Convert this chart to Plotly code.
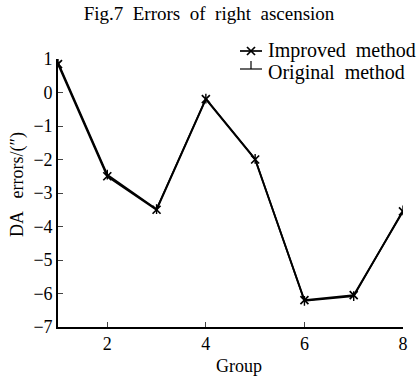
import plotly.graph_objects as go

# Data: right-ascension errors per observation group
groups = [1, 2, 3, 4, 5, 6, 7, 8]
improved = [0.85, -2.5, -3.5, -0.2, -2.0, -6.2, -6.05, -3.55]
original = [0.9, -2.45, -3.48, -0.18, -1.98, -6.22, -6.08, -3.52]

x_ticks = [2, 4, 6, 8]
y_ticks = [1, 0, -1, -2, -3, -4, -5, -6, -7]

series_names = ["Improved\u2002method", "Original\u2002method"]

serif = "Liberation Serif, Times New Roman, serif"
W, H = 418, 376
L, R, T, B = 58, 15, 59, 49
PW, PH = W - L - R, H - T - B
GAP = "\u2002\u2009"


def px(x):
    """Pixel column -> paper x."""
    return (x - L) / PW


def py(y):
    """Pixel row -> paper y."""
    return (H - B - y) / PH


fig = go.Figure()
fig.add_trace(go.Scatter(
    x=groups, y=original, mode="lines+markers", name=series_names[1],
    line=dict(color="black", width=1.7),
    marker=dict(symbol="line-ns-open", size=7, color="black",
                line=dict(color="black", width=1.4)),
    showlegend=False,
))
fig.add_trace(go.Scatter(
    x=groups, y=improved, mode="lines+markers", name=series_names[0],
    line=dict(color="black", width=1.9),
    marker=dict(symbol="x-thin-open", size=8, color="black",
                line=dict(color="black", width=1.7)),
    showlegend=False,
))

# Hand-drawn legend keys (line + marker glyph)
line_style = dict(color="black", width=1.7)
shapes = [
    dict(type="line", xref="paper", yref="paper", x0=px(240), x1=px(262),
         y0=py(51), y1=py(51), line=line_style),
    dict(type="line", xref="paper", yref="paper", x0=px(247), x1=px(255),
         y0=py(47), y1=py(55), line=line_style),
    dict(type="line", xref="paper", yref="paper", x0=px(247), x1=px(255),
         y0=py(55), y1=py(47), line=line_style),
    dict(type="line", xref="paper", yref="paper", x0=px(240), x1=px(262),
         y0=py(69), y1=py(69), line=dict(color="black", width=1.2)),
    dict(type="line", xref="paper", yref="paper", x0=px(251), x1=px(251),
         y0=py(61), y1=py(69), line=dict(color="black", width=1.2)),
]

annotations = [
    dict(text=series_names[0], xref="paper", yref="paper",
         x=px(266), y=py(51), xanchor="left", yanchor="middle", showarrow=False,
         font=dict(family=serif, size=20, color="black")),
    dict(text=series_names[1], xref="paper", yref="paper", x=px(266), y=py(72),
         xanchor="left", yanchor="middle", showarrow=False,
         font=dict(family=serif, size=20, color="black")),
    dict(text="Group", xref="paper", yref="paper", x=px(239), y=py(366),
         xanchor="center", yanchor="middle", showarrow=False,
         font=dict(family=serif, size=18, color="black")),
    dict(text="DA" + GAP + "errors/(″)", xref="paper", yref="paper", x=px(17), y=py(185),
         xanchor="center", yanchor="middle", showarrow=False, textangle=-90,
         font=dict(family=serif, size=18, color="black")),
]

fig.update_layout(
    width=W, height=H,
    margin=dict(l=L, r=R, t=T, b=B),
    paper_bgcolor="white", plot_bgcolor="white",
    font=dict(family=serif, size=18, color="black"),
    title=dict(text="\u2002".join(["Fig.7", "Errors", "of", "right", "ascension"]),
               x=px(209), xanchor="center", xref="paper", y=1 - 13 / H,
               yanchor="middle", font=dict(family=serif, size=19)),
    showlegend=False,
    shapes=shapes,
    annotations=annotations,
    xaxis=dict(range=[1, 8], tickvals=x_ticks, ticks="inside", ticklen=5,
               showline=True, linecolor="black", linewidth=1.6, mirror=False,
               showgrid=False, zeroline=False, automargin=False),
    yaxis=dict(range=[-7, 1], tickvals=y_ticks, ticks="inside", ticklen=5,
               showline=True, linecolor="black", linewidth=1.6, mirror=False,
               showgrid=False, zeroline=False, automargin=False),
)

fig.write_html("out.html")
